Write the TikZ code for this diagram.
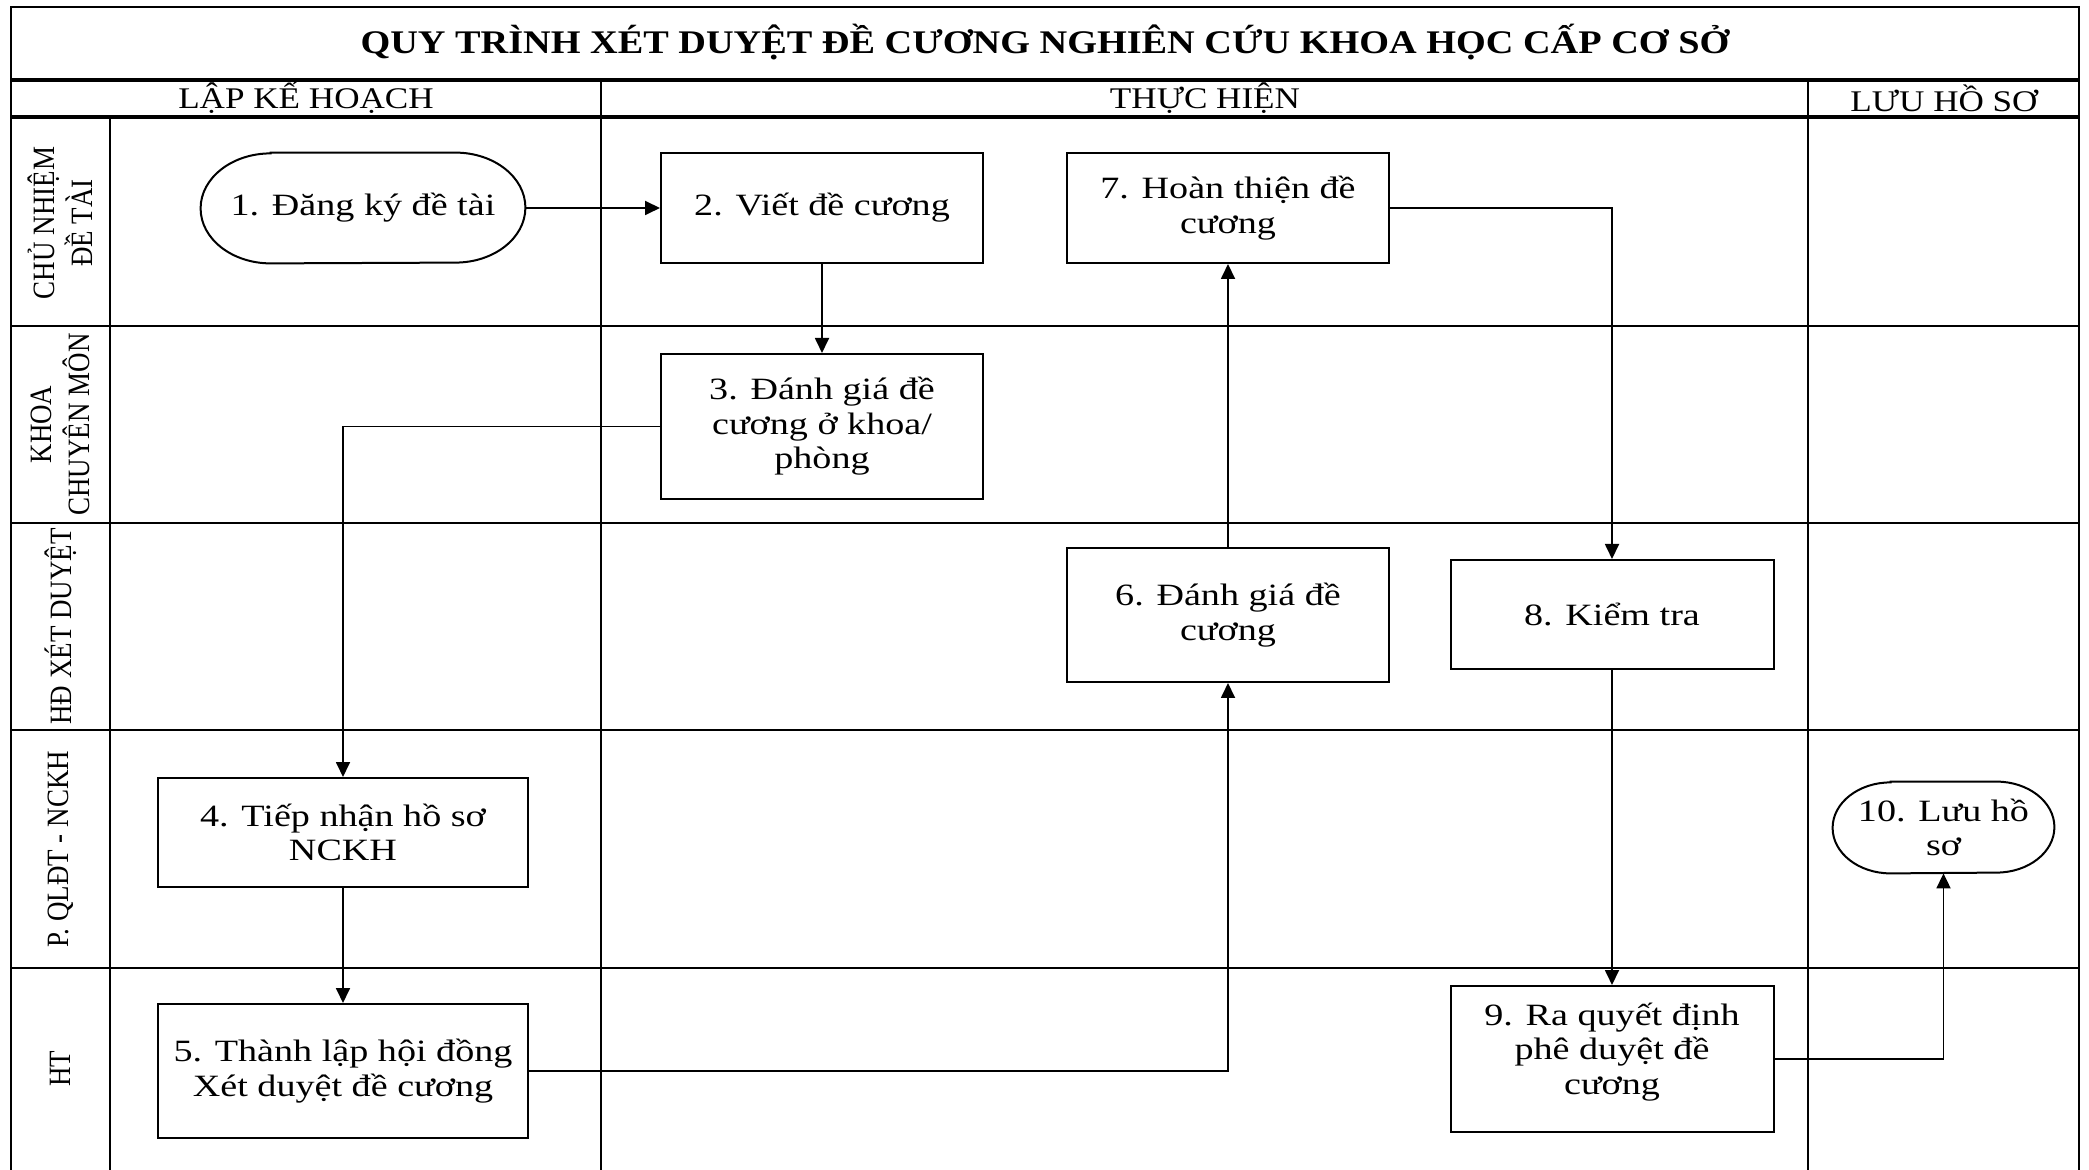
\documentclass[tikz,border=0pt]{standalone}
\usepackage{fontspec}
\setmainfont{Liberation Serif}
\newfontfamily\boxf[FakeStretch=1.23]{Liberation Serif}
\newfontfamily\headf[FakeStretch=1.17]{Liberation Serif}
\newfontfamily\titlef[FakeStretch=1.16]{Liberation Serif}
\newfontfamily\lanef[FakeStretch=0.87]{Liberation Serif}
\usetikzlibrary{arrows.meta}
\begin{document}
\begin{tikzpicture}[x=0.5pt,y=-0.5pt,
  grid/.style={line width=1.2pt},
  thickgrid/.style={line width=1.6pt},
  box/.style={draw, line width=1pt, fill=white, align=center, inner sep=0pt,
    font=\boxf\fontsize{15.5}{17.3}\selectfont},
  plain/.style={align=center, inner sep=0pt, font=\boxf\fontsize{15.5}{17.3}\selectfont},
  stadline/.style={line width=1pt},
  conn/.style={line width=0.9pt, -{Triangle[length=7.5pt,width=7pt]}},
  lane/.style={rotate=90, align=center, font=\lanef\fontsize{15.5}{19}\selectfont},
  head/.style={font=\headf\fontsize{15}{17}\selectfont}]
\useasboundingbox (0,0) rectangle (2089,1170);
% table grid
\draw[grid] (11,1170) -- (11,7) -- (2079,7) -- (2079,1170);
\draw[thickgrid] (11,80) -- (2079,80);
\draw[thickgrid] (11,117) -- (2079,117);
\draw[grid] (110,117) -- (110,1170);
\draw[grid] (601,80) -- (601,1170);
\draw[grid] (1808,80) -- (1808,1170);
\foreach \yy in {326,523,730,968} \draw[grid] (11,\yy) -- (2079,\yy);
% title and headers
\node[font=\titlef\bfseries\fontsize{16.5}{19}\selectfont] (title) at (1045,42) {QUY TRÌNH XÉT DUYỆT ĐỀ CƯƠNG NGHIÊN CỨU KHOA HỌC CẤP CƠ SỞ};
\node[head] (h1) at (306,98) {LẬP KẾ HOẠCH};
\node[head] (h2) at (1205,98) {THỰC HIỆN};
\node[head] (h3) at (1944,98) {LƯU HỒ SƠ};
% lane labels
\node[lane] (l1) at (60.5,223) {CHỦ NHIỆM\\ĐỀ TÀI};
\node[lane] (l2) at (60.5,424.5) {KHOA\\CHUYÊN MÔN};
\node[lane] (l3) at (60.5,626.5) {HĐ XÉT DUYỆT};
\node[lane] (l4) at (60.5,849) {P. QLĐT - NCKH};
\node[lane] (l5) at (60.5,1069) {HT};
% process boxes
\node[plain, minimum width=162pt, minimum height=55pt] (n1) at (363,208) {1. Đăng ký đề tài};
\draw[stadline] ([xshift=35pt]n1.north west) -- ([xshift=-35pt]n1.north east)
  arc[start angle=90,end angle=-90,x radius=35pt,y radius=27.5pt]
  -- ([xshift=35pt]n1.south west)
  arc[start angle=270,end angle=90,x radius=35pt,y radius=27.5pt] -- cycle;
\node[box, minimum width=161pt, minimum height=55pt] (n2) at (822,208) {2. Viết đề cương};
\node[box, minimum width=161pt, minimum height=72.5pt] (n3) at (822,426.5) {3. Đánh giá đề\\cương ở khoa/\\phòng};
\node[box, minimum width=161pt, minimum height=55pt] (n7) at (1228,208) {7. Hoàn thiện đề\\cương};
\node[box, minimum width=161pt, minimum height=67pt] (n6) at (1228,615) {6. Đánh giá đề\\cương};
\node[box, minimum width=161.5pt, minimum height=54.5pt] (n8) at (1612,614.5) {8. Kiểm tra};
\node[box, minimum width=185pt, minimum height=54.5pt] (n4) at (343,832.5) {4. Tiếp nhận hồ sơ\\NCKH};
\node[box, minimum width=185pt, minimum height=67pt] (n5) at (343,1071) {5. Thành lập hội đồng\\Xét duyệt đề cương};
\node[box, minimum width=161.5pt, minimum height=73pt] (n9) at (1612,1059) {};
\node[plain] (t9) at ([yshift=3.5pt]n9.center) {9. Ra quyết định\\phê duyệt đề\\cương};
\node[plain, minimum width=110.5pt, minimum height=45.5pt] (n10) at (1943.5,827.5) {10. Lưu hồ\\sơ};
\draw[stadline] ([xshift=29pt]n10.north west) -- ([xshift=-29pt]n10.north east)
  arc[start angle=90,end angle=-90,x radius=29pt,y radius=22.75pt]
  -- ([xshift=29pt]n10.south west)
  arc[start angle=270,end angle=90,x radius=29pt,y radius=22.75pt] -- cycle;
% connectors
\draw[conn] (n1.east) -- (n2.west);
\draw[conn] (n2.south) -- (n3.north);
\draw[conn] (n3.west) -| (n4.north);
\draw[conn] (n4.south) -- (n5.north);
\draw[conn] (n5.east) -| (n6.south);
\draw[conn] (n6.north) -- (n7.south);
\draw[conn] (n7.east) -| (n8.north);
\draw[conn] (n8.south) -- (n9.north);
\draw[conn] (n9.east) -| (n10.south);
\end{tikzpicture}
\end{document}
